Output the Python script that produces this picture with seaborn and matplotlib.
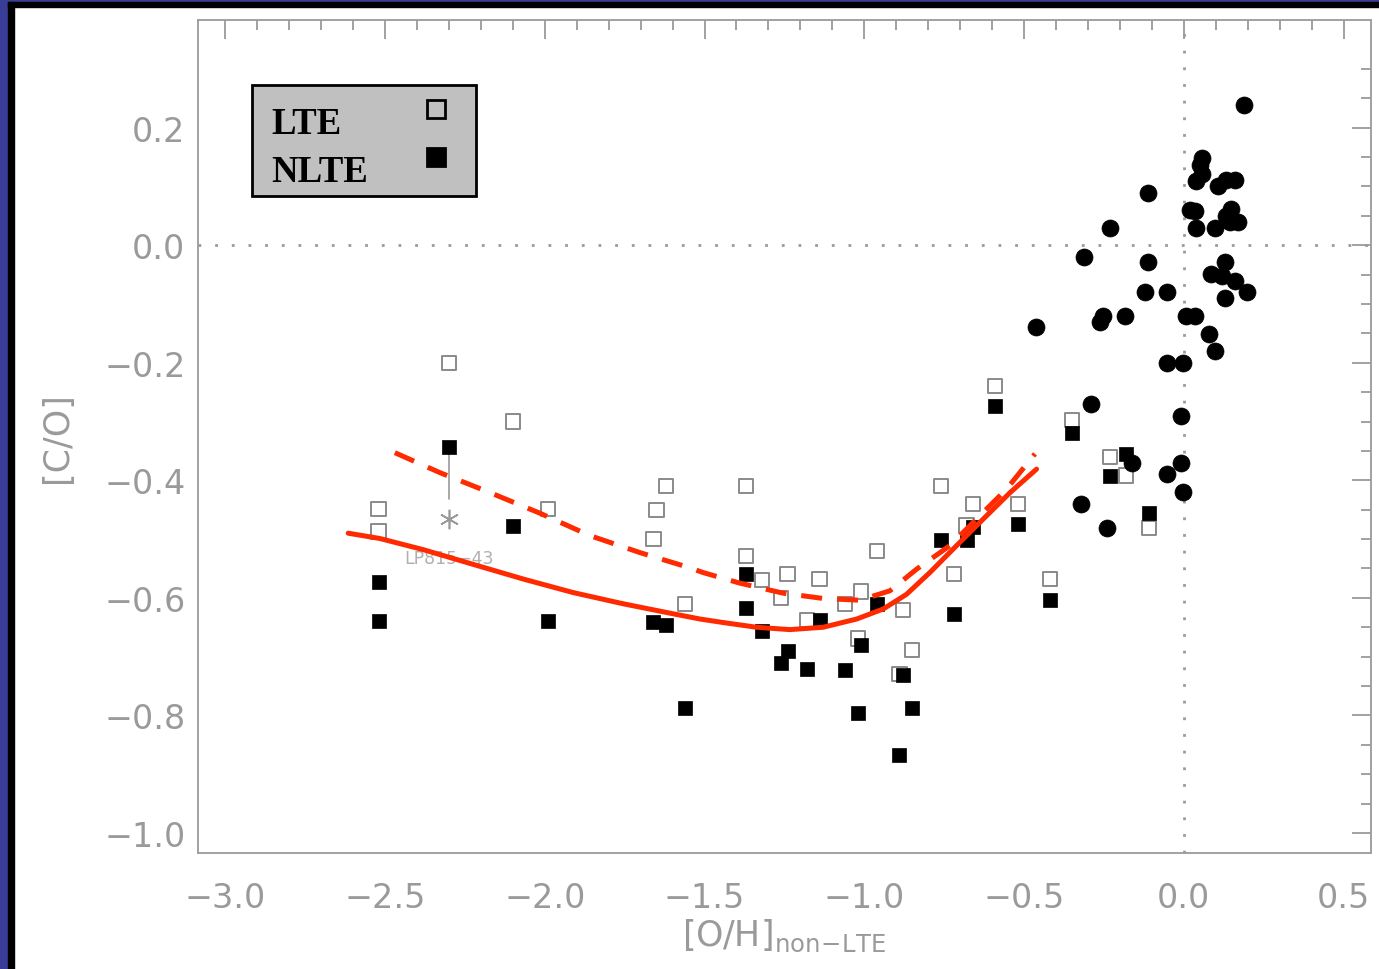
import numpy as np
import pandas as pd
import matplotlib
matplotlib.use("Agg")
import matplotlib.pyplot as plt
from matplotlib.patches import Rectangle
from matplotlib.ticker import FuncFormatter
import seaborn as sns

# LTE (open squares)
lte_x = [-2.30, -2.10, -2.52, -2.52, -1.99, -1.62, -1.65, -1.66, -1.56, -1.37,
         -1.37, -1.32, -1.24, -1.26, -1.14, -1.18, -1.06, -1.01, -0.96, -1.02,
         -0.88, -0.85, -0.89, -0.76, -0.66, -0.68, -0.72, -0.52, -0.42, -0.59,
         -0.35, -0.23, -0.18, -0.11]
lte_y = [-0.200, -0.300, -0.449, -0.487, -0.449, -0.410, -0.450, -0.500, -0.610, -0.410,
         -0.529, -0.570, -0.560, -0.600, -0.568, -0.638, -0.610, -0.589, -0.520, -0.669,
         -0.620, -0.689, -0.730, -0.410, -0.440, -0.477, -0.560, -0.440, -0.568, -0.239,
         -0.298, -0.360, -0.392, -0.481]

# NLTE (filled squares)
nlte_x = [-2.30, -2.10, -2.52, -2.52, -1.99, -1.66, -1.62, -1.56, -1.37, -1.37,
          -1.32, -1.24, -1.26, -1.18, -1.14, -1.06, -1.01, -0.96, -1.02, -0.88,
          -0.85, -0.89, -0.76, -0.68, -0.66, -0.72, -0.52, -0.42, -0.59, -0.35,
          -0.18, -0.23, -0.11]
nlte_y = [-0.343, -0.478, -0.573, -0.640, -0.640, -0.641, -0.647, -0.787, -0.559, -0.617,
          -0.657, -0.690, -0.710, -0.721, -0.637, -0.723, -0.681, -0.610, -0.796, -0.731,
          -0.788, -0.867, -0.501, -0.502, -0.479, -0.628, -0.474, -0.604, -0.273, -0.319,
          -0.355, -0.393, -0.456]

# disk stars (filled circles)
disk_x = [0.188, 0.058, 0.050, 0.058, 0.038, -0.112, 0.107, 0.133, 0.160, 0.019,
          0.035, 0.038, 0.097, 0.149, 0.133, 0.170, 0.144, -0.232, -0.312, -0.112,
          0.128, 0.085, 0.118, 0.160, 0.196, 0.128, -0.122, -0.052, -0.462, -0.253,
          -0.263, -0.183, 0.008, 0.034, 0.079, 0.097, -0.053, -0.002, -0.292, -0.009,
          -0.009, -0.161, -0.053, -0.002, -0.323, -0.242]
disk_y = [0.239, 0.149, 0.136, 0.121, 0.109, 0.089, 0.100, 0.111, 0.111, 0.060,
          0.058, 0.029, 0.029, 0.061, 0.050, 0.039, 0.039, 0.030, -0.021, -0.029,
          -0.028, -0.049, -0.052, -0.061, -0.080, -0.090, -0.080, -0.080, -0.140, -0.120,
          -0.130, -0.120, -0.120, -0.120, -0.151, -0.180, -0.200, -0.200, -0.270, -0.291,
          -0.371, -0.371, -0.390, -0.420, -0.440, -0.481]

# model curves
solid_x = [-2.615, -2.516, -2.380, -2.224, -2.067, -1.911, -1.755, -1.599, -1.514,
           -1.441, -1.337, -1.233, -1.129, -1.024, -0.941, -0.868, -0.795, -0.711,
           -0.628, -0.544, -0.461]
solid_y = [-0.490, -0.499, -0.518, -0.543, -0.568, -0.591, -0.610, -0.627, -0.636,
           -0.642, -0.650, -0.654, -0.650, -0.636, -0.619, -0.594, -0.557, -0.511,
           -0.466, -0.421, -0.381]
dash_x = [-2.469, -2.328, -2.171, -2.015, -1.859, -1.702, -1.551, -1.504, -1.389,
          -1.254, -1.129, -1.014, -0.920, -0.836, -0.732, -0.638, -0.555, -0.466]
dash_y = [-0.353, -0.387, -0.421, -0.456, -0.494, -0.523, -0.548, -0.557, -0.575,
          -0.592, -0.601, -0.604, -0.588, -0.551, -0.511, -0.460, -0.415, -0.355]

# LP815-43
star_x, star_y = -2.30, -0.465
legend_labels = ['LTE', 'NLTE']

sns.set_style("white")
plt.rcParams['font.family'] = ['DejaVu Sans']
plt.rcParams['mathtext.fontset'] = 'dejavusans'

grey = '#9a9a9a'
red = '#ff2a00'
W, H = 1379, 970

fig = plt.figure(figsize=(W / 100, H / 100), dpi=100)
ax = fig.add_axes([198 / W, 1 - 854 / H, (1370.5 - 198) / W, (854 - 21) / H])


def fpos(px, py):
    # pixel (from top-left) -> figure fraction
    return px / W, 1 - py / H


ax.axhline(0, color=grey, lw=2, ls=(0, (1, 5)), zorder=1)
ax.axvline(0, color=grey, lw=2, ls=(0, (1, 5)), zorder=1)

sns.scatterplot(x=lte_x, y=lte_y, marker='s', s=105, facecolor='none',
                edgecolor='#8a8a8a', linewidth=1.4, ax=ax, zorder=3)
sns.scatterplot(x=nlte_x, y=nlte_y, marker='s', s=115, color='black',
                edgecolor='black', linewidth=0.5, ax=ax, zorder=4)
sns.scatterplot(x=disk_x, y=disk_y, marker='o', s=150, color='black',
                edgecolor='black', linewidth=0.5, ax=ax, zorder=5)

sns.lineplot(x=solid_x, y=solid_y, sort=False, estimator=None, color=red,
             lw=3.6, ax=ax, zorder=6)
sns.lineplot(x=dash_x, y=dash_y, sort=False, estimator=None, color=red,
             lw=3.6, ax=ax, zorder=6)
ax.lines[-1].set_dashes((4.2, 3.0))
for ln in ax.lines[-2:]:
    ln.set_solid_joinstyle('round')

# LP815-43 marker
ax.plot([star_x, star_x], [-0.350, -0.432], color=grey, lw=1.2, zorder=2)
ax.plot([star_x], [star_y], marker=(6, 2, 0), ms=14, color=grey, mew=1.2, zorder=2)
ax.text(star_x, -0.533, 'LP815\u221243', color='#b0b0b0', fontsize=12.5,
        ha='center', va='center', zorder=2)

ax.set_xlim(-3.085, 0.584)
ax.set_ylim(-1.034, 0.383)
ax.set_xticks(np.arange(-3.0, 0.51, 0.5))
ax.set_xticks(np.arange(-3.0, 0.51, 0.1), minor=True)
ax.set_yticks(np.arange(-1.0, 0.21, 0.2))
ax.set_yticks(np.arange(-1.0, 0.31, 0.05), minor=True)


def fmt(v, pos):
    s = '%.1f' % abs(v)
    return ('\u2212' + s) if v < -1e-9 else s


ax.xaxis.set_major_formatter(FuncFormatter(fmt))
ax.yaxis.set_major_formatter(FuncFormatter(fmt))
ax.tick_params(which='both', direction='in', top=True, right=True, color=grey,
               labelcolor=grey, labelsize=24, width=1.3)
ax.tick_params(which='major', length=14)
ax.tick_params(which='minor', length=7)
ax.tick_params(axis='x', pad=20)
ax.tick_params(axis='y', pad=9)
for sp in ax.spines.values():
    sp.set_color(grey)
    sp.set_linewidth(1.3)

ax.set_xlabel('[O/H]$_{\\rm non\\!-\\!LTE}$', color=grey, fontsize=25, labelpad=2)
ax.set_ylabel('[C/O]', color=grey, fontsize=25, labelpad=22)

# legend box, drawn by hand so the labels sit left and the symbols right
x0, y0 = fpos(252, 197)
x1, y1 = fpos(476, 86)
ax.add_patch(Rectangle((x0, y0), x1 - x0, y1 - y0, transform=fig.transFigure,
                       facecolor='#c0c0c0', edgecolor='black', lw=2, clip_on=False, zorder=8))
serif = {'family': 'Liberation Serif', 'weight': 'bold', 'size': 26.5}
for lab, py, mfc in [(legend_labels[0], 134, 'none'), (legend_labels[1], 182, 'black')]:
    tx, ty = fpos(271, py)
    ax.text(tx, ty, lab, transform=fig.transFigure, ha='left', va='baseline',
            fontdict=serif, color='black', zorder=9)
    mx, my = fpos(436, py - 24)
    ax.plot([mx], [my], marker='s', ms=12.5, mfc=mfc, mec='black', mew=2,
            transform=fig.transFigure, clip_on=False, zorder=9)

# blue/black slide frame on top and left
fig.patches.append(Rectangle((0, 0), 8 / W, 1, transform=fig.transFigure,
                             color='#3a3d98', zorder=10))
fig.patches.append(Rectangle((0, 1 - 3 / H), 1, 3 / H, transform=fig.transFigure,
                             color='#3a3d98', zorder=10))
fig.patches.append(Rectangle((8 / W, 0), 6 / W, 1 - 3 / H, transform=fig.transFigure,
                             color='black', zorder=11))
fig.patches.append(Rectangle((8 / W, 1 - 8 / H), 1, 5 / H, transform=fig.transFigure,
                             color='black', zorder=11))

fig.savefig('out.png', dpi=100)
